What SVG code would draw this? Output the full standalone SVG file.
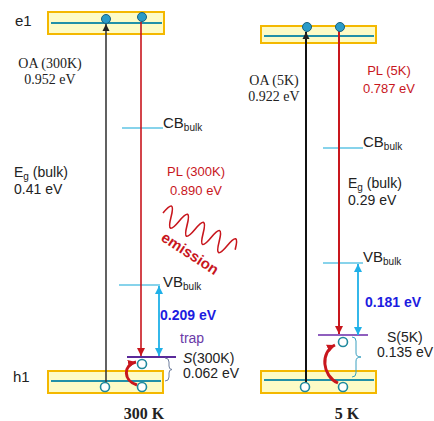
<svg xmlns="http://www.w3.org/2000/svg" width="434" height="421" viewBox="0 0 434 421">
<style>
.box{fill:#fdfbc6;stroke:#f4b800;stroke-width:2}
.lvl{stroke:#2190a8;stroke-width:2;fill:none}
.band{stroke:#5fc4e4;stroke-width:1.5}
.dot{fill:#2a9bc8;stroke:#17607e;stroke-width:1}
.hole{fill:#fff;stroke:#208a9e;stroke-width:1.6}
.sans{font-family:"Liberation Sans",Arial,sans-serif}
.serif{font-family:"Liberation Serif","Times New Roman",serif}
.t14{font-size:14px;fill:#222}
.red{fill:#c8161d}
.blue{fill:#1c1ce0;font-weight:bold}
.sub{font-size:10px}
</style>
<defs>
<marker id="ab" markerWidth="8" markerHeight="8" refX="7" refY="4" orient="auto" markerUnits="userSpaceOnUse"><path d="M0,0.5 L7,4 L0,7.5 Z" fill="#222"/></marker>
<marker id="ar" markerWidth="9" markerHeight="9" refX="8" refY="4.5" orient="auto" markerUnits="userSpaceOnUse"><path d="M0,0.5 L8,4.5 L0,8.5 Z" fill="#c8161d"/></marker>
<marker id="ac" markerWidth="9" markerHeight="9" refX="8" refY="4.5" orient="auto-start-reverse" markerUnits="userSpaceOnUse"><path d="M0,0.5 L8,4.5 L0,8.5 Z" fill="#1fb0e8"/></marker>
</defs>

<g id="panel-300K">
<g id="e1-left"><rect class="box" x="48" y="12" width="116" height="22"/><line class="lvl" x1="51" y1="23" x2="162" y2="23"/></g>
<g id="h1-left"><rect class="box" x="48" y="371" width="115" height="22"/><line class="lvl" x1="51" y1="381" x2="161" y2="381"/></g>
<g id="cb-left"><line class="band" x1="122" y1="128" x2="163" y2="128"/><text class="sans" x="163" y="128" font-size="15" fill="#222">CB<tspan class="sub" dy="3">bulk</tspan></text></g>
<g id="vb-left"><line class="band" x1="119" y1="285" x2="160" y2="285"/><text class="sans" x="163" y="287" font-size="15" fill="#222">VB<tspan class="sub" dy="3">bulk</tspan></text></g>
<g id="trap-left"><line x1="127" y1="357" x2="176" y2="357" stroke="#5a2a9a" stroke-width="2"/><text class="sans" x="180" y="343" font-size="14" fill="#6a3aa8">trap</text></g>
<g id="brace-left"><path d="M165,358 Q169,358 169,362 L169,366 Q169,369.5 172,369.5 Q169,369.5 169,373 L169,377 Q169,381 165,381" fill="none" stroke="#6f7f9f" stroke-width="1"/></g>
</g>

<g id="panel-5K">
<g id="e1-right"><rect class="box" x="261" y="26" width="115" height="17"/><line class="lvl" x1="264" y1="36" x2="374" y2="36"/></g>
<g id="h1-right"><rect class="box" x="261" y="371" width="115" height="22"/><line class="lvl" x1="264" y1="380" x2="374" y2="380"/></g>
<g id="cb-right"><line class="band" x1="323" y1="148" x2="363" y2="148"/><text class="sans" x="363" y="147" font-size="15" fill="#222">CB<tspan class="sub" dy="3">bulk</tspan></text></g>
<g id="vb-right"><line class="band" x1="323" y1="263" x2="363" y2="263"/><text class="sans" x="363" y="262" font-size="15" fill="#222">VB<tspan class="sub" dy="3">bulk</tspan></text></g>
<g id="trap-right"><line x1="318" y1="335" x2="368" y2="335" stroke="#6a2aa8" stroke-width="1.6"/></g>
<g id="brace-right"><path d="M352,337 Q356,337 356,341 L356,353 Q356,357 361,357 Q356,357 356,361 L356,373 Q356,377 352,377" fill="none" stroke="#3aa0c0" stroke-width="1"/></g>
</g>

<g id="connectors">
<line x1="106" y1="383" x2="106" y2="24" stroke="#3a3a3a" stroke-width="1.6" marker-end="url(#ab)"/>
<line x1="141" y1="22" x2="141" y2="356" stroke="#c8161d" stroke-width="1.6" marker-end="url(#ar)"/>
<line x1="159" y1="286" x2="159" y2="356" stroke="#1fb0e8" stroke-width="1.8" marker-start="url(#ac)" marker-end="url(#ac)"/>
<path d="M137,385 C123,381 123,365 136,362" fill="none" stroke="#c8161d" stroke-width="3" marker-end="url(#ar)"/>
<line x1="306" y1="383" x2="306" y2="32" stroke="#111" stroke-width="2" marker-end="url(#ab)"/>
<line x1="339" y1="31" x2="339" y2="334" stroke="#c8161d" stroke-width="2" marker-end="url(#ar)"/>
<line x1="358" y1="264" x2="358" y2="335" stroke="#1fb0e8" stroke-width="1.8" marker-start="url(#ac)" marker-end="url(#ac)"/>
<path d="M338,383 C322,376 320,352 335,345" fill="none" stroke="#c8161d" stroke-width="3" marker-end="url(#ar)"/>
<path id="emission-wave" transform="translate(163,213) rotate(27)" d="M0,0 q4.5,-20 9,0 t9,0 t9,0 t9,0 t9,0 t9,0 t9,0 t9,0 t9,0" fill="none" stroke="#c8161d" stroke-width="1.6"/>
</g>

<g id="carriers">
<circle class="dot" cx="106" cy="19" r="4.5"/><circle class="dot" cx="142" cy="17" r="4.5"/>
<circle class="hole" cx="142" cy="364" r="4.5"/><circle class="hole" cx="105" cy="387" r="4.5"/><circle class="hole" cx="142" cy="387" r="4.5"/>
<circle class="dot" cx="307" cy="27" r="4.5"/><circle class="dot" cx="340" cy="27" r="4.5"/>
<circle class="hole" cx="343" cy="342" r="4.5"/><circle class="hole" cx="305" cy="387" r="4.5"/><circle class="hole" cx="343" cy="387" r="4.5"/>
</g>

<g id="labels">
<text class="sans" x="15" y="26" font-size="15" fill="#222">e1</text>
<text class="sans" x="13" y="382" font-size="15" fill="#222">h1</text>
<text class="serif t14" x="50" y="68" text-anchor="middle">OA (300K)</text>
<text class="serif t14" x="50" y="84" text-anchor="middle">0.952 eV</text>
<text class="sans t14" x="14" y="177">E<tspan class="sub" dy="3">g</tspan><tspan dy="-3"> (bulk)</tspan></text>
<text class="sans t14" x="14" y="194">0.41 eV</text>
<text class="sans red" x="167" y="176" font-size="13">PL (300K)</text>
<text class="sans red" x="170" y="195" font-size="13">0.890 eV</text>
<text class="sans red" transform="translate(160,240) rotate(33)" font-size="15" font-weight="bold">emission</text>
<text class="sans blue" x="160" y="320" font-size="14">0.209 eV</text>
<text class="sans t14" x="183" y="363"><tspan font-style="italic">S</tspan>(300K)</text>
<text class="sans t14" x="183" y="378">0.062 eV</text>
<text class="serif" x="144" y="419" font-size="16" font-weight="bold" text-anchor="middle" fill="#222">300 K</text>

<text class="serif t14" x="274" y="85" text-anchor="middle">OA (5K)</text>
<text class="serif t14" x="274" y="101" text-anchor="middle">0.922 eV</text>
<text class="sans red" x="389" y="75" font-size="13" text-anchor="middle">PL (5K)</text>
<text class="sans red" x="389" y="93" font-size="13" text-anchor="middle">0.787 eV</text>
<text class="sans t14" x="348" y="188">E<tspan class="sub" dy="3">g</tspan><tspan dy="-3"> (bulk)</tspan></text>
<text class="sans t14" x="348" y="205">0.29 eV</text>
<text class="sans blue" x="365" y="307" font-size="14">0.181 eV</text>
<text class="sans t14" x="387" y="342">S(5K)</text>
<text class="sans t14" x="377" y="357">0.135 eV</text>
<text class="serif" x="347" y="419" font-size="16" font-weight="bold" text-anchor="middle" fill="#222">5 K</text>
</g>
</svg>
